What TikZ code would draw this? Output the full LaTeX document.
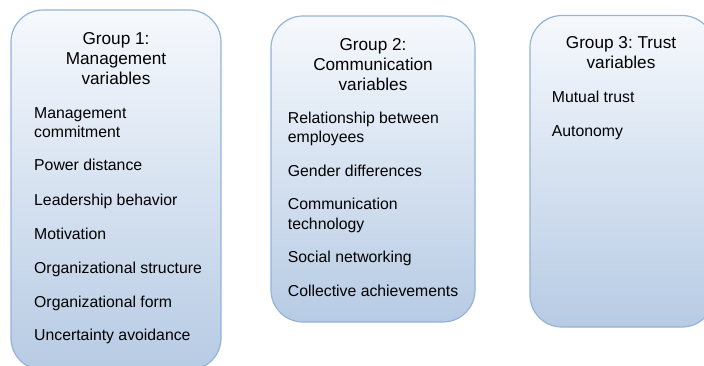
\documentclass[tikz,border=0pt]{standalone}
\usepackage{fontspec}
\setmainfont{Liberation Sans}
\frenchspacing
\begin{document}
\definecolor{edgeblue}{HTML}{93B3D9}
\definecolor{topfill}{HTML}{F6F9FD}
\definecolor{botfill}{HTML}{B7CBE4}
\begin{tikzpicture}[x=1pt,y=-1pt,
  groupbox/.style={draw=edgeblue,line width=1.2pt,rounded corners=32pt,
    top color=topfill,bottom color=botfill,inner sep=0pt,
    minimum width=#1},
  heading/.style={anchor=base,align=center,font=\fontsize{17.2}{20}\selectfont\frenchspacing,inner sep=0pt},
  item/.style={anchor=base west,align=left,font=\fontsize{15.8}{19.5}\selectfont,inner sep=0pt}]
\useasboundingbox (0,0) rectangle (704,365);
\begin{scope}
\clip (0,0) rectangle (704,365);
% the three group boxes
\node[groupbox=210pt,minimum height=360pt] (g1) at (116,190) {};
\node[groupbox=204pt,minimum height=306pt] (g2) at (373,169) {};
\node[groupbox=184pt,minimum height=311.5pt] (g3) at (622,171.25) {};
\end{scope}
% group 1 (multi-line nodes sit on the baseline of their last line)
\node[heading] (h1) at (116,84.3) {Group 1:\\Management\\variables};
\node[item] (a1) at (34,137.7) {Management\\commitment};
\node[item] (a2) at (34,170.7) {Power distance};
\node[item] (a3) at (34,205) {Leadership behavior};
\node[item] (a4) at (34,239.3) {Motivation};
\node[item] (a5) at (34,273.3) {Organizational structure};
\node[item] (a6) at (34,307.3) {Organizational form};
\node[item] (a7) at (34,340.7) {Uncertainty avoidance};
% group 2
\node[heading] (h2) at (373,90) {Group 2:\\Communication\\variables};
\node[item] (b1) at (287.7,142.7) {Relationship between\\employees};
\node[item] (b2) at (287.7,176) {Gender differences};
\node[item] (b3) at (287.7,229.3) {Communication\\technology};
\node[item] (b4) at (287.7,262.3) {Social networking};
\node[item] (b5) at (287.7,296.7) {Collective achievements};
% group 3
\node[heading] (h3) at (621,68.3) {Group 3: Trust\\variables};
\node[item] (c1) at (551.7,102.7) {Mutual trust};
\node[item] (c2) at (551.7,136.7) {Autonomy};
\end{tikzpicture}
\end{document}
